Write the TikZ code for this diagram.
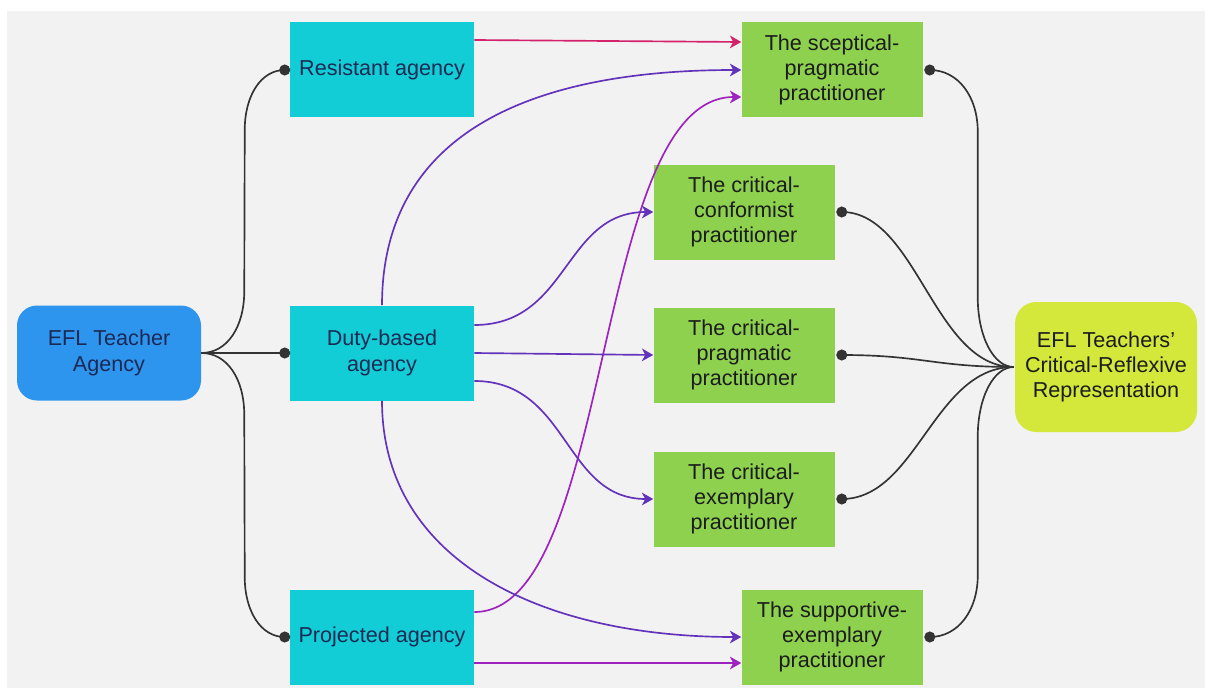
\documentclass[tikz,border=0pt]{standalone}
\usepackage{fontspec}
\setmainfont{Liberation Sans}
\usetikzlibrary{arrows.meta,calc}
\definecolor{bgc}{HTML}{F2F2F2}
\definecolor{bluec}{HTML}{2E95EE}
\definecolor{cyanc}{HTML}{12CDD5}
\definecolor{greenc}{HTML}{8ED14F}
\definecolor{limec}{HTML}{D3E83B}
\definecolor{navy}{HTML}{1B2A55}
\definecolor{darkt}{HTML}{1C1C1C}
\definecolor{linec}{HTML}{333333}
\definecolor{redc}{HTML}{D3216C}
\definecolor{purc}{HTML}{6332BA}
\definecolor{magc}{HTML}{9E22BE}
\begin{document}
\begin{tikzpicture}[x=0.75pt,y=-0.75pt,
  font=\fontsize{16.2}{19}\selectfont,
  base/.style={draw=none,inner sep=0pt,align=center},
  agentbox/.style={base,fill=cyanc,text=navy,minimum width=138pt,minimum height=71.25pt},
  practbox/.style={base,fill=greenc,text=darkt,minimum width=135.75pt,minimum height=71.25pt},
  dotn/.style={circle,fill=linec,inner sep=0pt,minimum size=8.3pt},
  conn/.style={draw=linec,line width=1.25pt},
  arr/.style={line width=1.25pt,-{Stealth[length=8.5pt,width=9.5pt,inset=2.5pt]}}]
\useasboundingbox (0,0) rectangle (1205,688);
\fill[white] (0,0) rectangle (1205,688);
\fill[bgc] (7,11) rectangle (1205,688);

% nodes
\node[base,fill=bluec,text=navy,rounded corners=15pt,minimum width=138pt,minimum height=71.25pt] (eta) at (109,353) {EFL Teacher\\Agency};
\node[agentbox] (res) at (382,70) {Resistant agency};
\node[agentbox] (duty) at (382,353) {Duty-based\\agency};
\node[agentbox] (proj) at (382,637) {Projected agency};
\node[practbox] (scep) at (832,70) {The sceptical-\\pragmatic\\practitioner};
\node[practbox] (cc) at (744,212) {The critical-\\conformist\\practitioner};
\node[practbox] (cp) at (744,355) {The critical-\\pragmatic\\practitioner};
\node[practbox] (ce) at (744,499) {The critical-\\exemplary\\practitioner};
\node[practbox] (sup) at (832,637) {The supportive-\\exemplary\\practitioner};
\node[base,fill=limec,text=darkt,rounded corners=16pt,minimum width=136.5pt,minimum height=97.5pt] (rep) at (1106,367) {EFL Teachers'\\Critical-Reflexive\\Representation};

% dots and junctions
\coordinate (dl1) at ($(res.west)+(-5,0)$);
\coordinate (dl2) at ($(duty.west)+(-5,0)$);
\coordinate (dl3) at ($(proj.west)+(-5,0)$);
\coordinate (dr1) at ($(scep.east)+(7,0)$);
\coordinate (dr2) at ($(cc.east)+(7,0)$);
\coordinate (dr3) at ($(cp.east)+(7,0)$);
\coordinate (dr4) at ($(ce.east)+(7,0)$);
\coordinate (dr5) at ($(sup.east)+(7,0)$);
\coordinate (rin) at ($(rep.west)+(-1,0)$);

% black connectors
\draw[conn] (eta.east) .. controls +(26,0) and +(0,36) .. ($(eta.east)+(43,-62)$)
  -- ($(dl1)+(-40,60)$) .. controls +(0,-34) and +(-24,0) .. (dl1);
\draw[conn] (eta.east) -- (dl2);
\draw[conn] (eta.east) .. controls +(26,0) and +(0,-36) .. ($(eta.east)+(43,62)$)
  -- ($(dl3)+(-40,-60)$) .. controls +(0,34) and +(-24,0) .. (dl3);
\draw[conn] (dr1) .. controls +(28,0) and +(0,-36) .. ($(dr1)+(48,62)$)
  -- ($(rin)+(-36,-70)$) .. controls +(0,40) and +(-20,0) .. (rin);
\draw[conn] (dr2) .. controls +(75,0) and +(-80,0) .. (rin);
\draw[conn] (dr3) .. controls +(80,0) and +(-80,0) .. (rin);
\draw[conn] (dr4) .. controls +(75,0) and +(-80,0) .. (rin);
\draw[conn] (dr5) .. controls +(28,0) and +(0,36) .. ($(dr5)+(48,-62)$)
  -- ($(rin)+(-36,70)$) .. controls +(0,-40) and +(-20,0) .. (rin);

\foreach \d in {dl1,dl2,dl3,dr1,dr2,dr3,dr4,dr5} \node[dotn] (n\d) at (\d) {};

% coloured arrows
\draw[arr,redc] ($(res.east)+(0,-30)$) -- ($(scep.west)+(0,-28)$);
\draw[arr,purc] (duty.north) .. controls +(0,-160) and +(-230,0) .. (scep.west);
\draw[arr,magc] ($(proj.east)+(0,-25)$) .. controls +(140,0) and +(-150,0) .. ($(scep.west)+(0,27)$);
\draw[arr,purc] ($(duty.east)+(0,-28)$) .. controls +(95,0) and +(-90,0) .. (cc.west);
\draw[arr,purc] (duty.east) -- (cp.west);
\draw[arr,purc] ($(duty.east)+(0,28)$) .. controls +(95,0) and +(-90,0) .. (ce.west);
\draw[arr,purc] (duty.south) .. controls +(0,160) and +(-200,0) .. (sup.west);
\draw[arr,magc] ($(proj.east)+(0,26)$) -- ($(sup.west)+(0,26)$);
\end{tikzpicture}
\end{document}
